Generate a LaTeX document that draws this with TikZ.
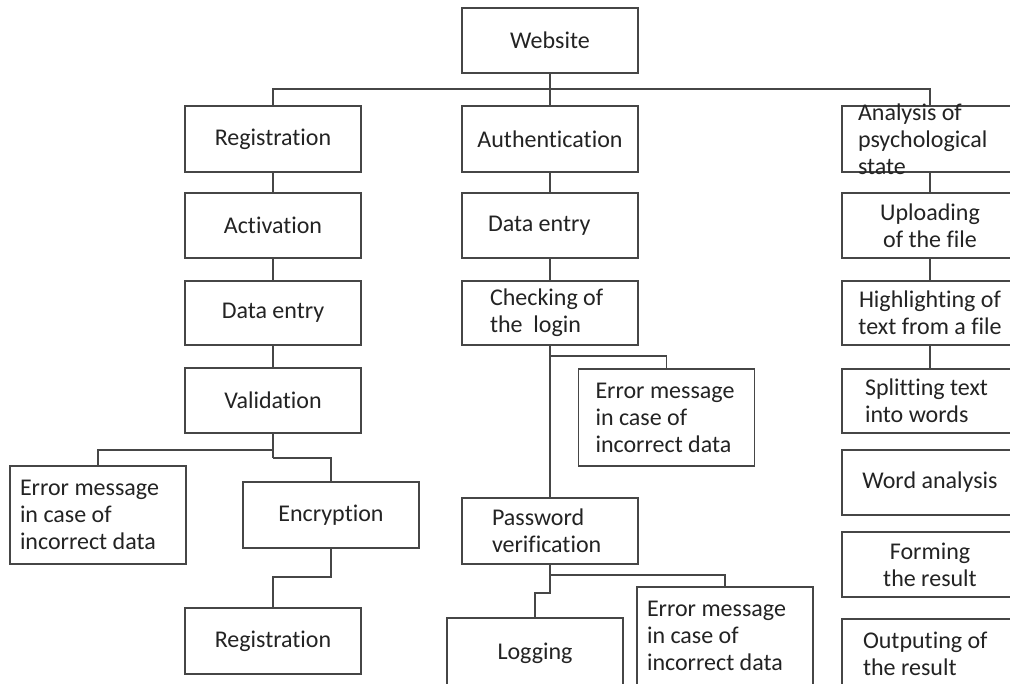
\documentclass[tikz,border=0pt]{standalone}
\usepackage{fontspec}
\setmainfont{Carlito}[Ligatures=NoCommon]
\definecolor{boxline}{RGB}{70,70,70}
\definecolor{boxtext}{RGB}{35,35,35}

\begin{document}
\begin{tikzpicture}[x=1pt, y=-1pt,
    box/.style={rectangle, draw=boxline, line width=1.8pt, fill=white,
                minimum width=176pt, minimum height=66pt, inner sep=0pt,
                align=center, text=boxtext, font=\fontsize{24}{27}\selectfont},
    lbox/.style={box, align=flush left, text width=#1},
    link/.style={draw=boxline, line width=1.8pt}]

    \useasboundingbox (0,0) rectangle (1010,684);
    \clip (0,0) rectangle (1010,684);

    \node[box, minimum height=65pt] (web) at (550,40.5) {Website};

    % registration branch
    \node[box] (reg1) at (273,139) {Registration};
    \node[box, minimum height=65pt] (act) at (273,225.5) {Activation};
    \node[box, minimum height=64pt] (dent1) at (273,313) {Data entry};
    \node[box, minimum height=65pt] (val) at (273,400.5) {Validation};
    \node[lbox=156pt, minimum height=98pt] (err1) at (98,515) {Error message\\in case of\\incorrect data};
    \node[box] (enc) at (331,515) {Encryption};
    \node[box] (reg2) at (273,641) {Registration};

    % authentication branch
    \node[box] (auth) at (550,139) {Authentication};
    \node[lbox=124pt, minimum height=65pt] (dent2) at (550,225.5) {Data entry};
    \node[lbox=120pt, minimum height=64pt] (chk) at (550,313) {Checking of\\the\ \ login};
    \node[lbox=142pt, minimum height=97pt] (err2) at (666.5,417.5) {Error message\\in case of\\incorrect data};
    \node[lbox=116pt] (pwd) at (550,531) {Password\\verification};
    \node[box, minimum height=70pt] (log) at (535,653) {Logging};
    \node[lbox=156pt, minimum height=98pt] (err3) at (725,636) {Error message\\in case of\\incorrect data};

    % analysis branch
    \node[box] (ana) at (930,139) {};
    \node[align=flush left, text width=144pt, inner sep=0pt, text=boxtext,
          font=\fontsize{24}{27}\selectfont] (anatext) at (ana) {Analysis of\\psychological\\state};
    \node[box, minimum height=65pt] (upl) at (930,225.5) {Uploading\\of the file};
    \node[box, minimum height=64pt] (hl) at (930,313) {Highlighting of\\text from a file};
    \node[lbox=130pt, minimum height=64pt] (spl) at (930,401) {Splitting text\\into words};
    \node[box, minimum height=65pt] (wa) at (930,482.5) {Word analysis};
    \node[box, minimum height=65pt] (form) at (930,564.5) {Forming\\the result};
    \node[lbox=134pt, minimum height=70pt] (out) at (930,654) {Outputing of\\the result};

    \coordinate (bus) at (550,89);
    \coordinate (vleft) at (273,450);
    \coordinate (vright) at (273,458);
    \coordinate (ebend) at (331,577);
    \coordinate (cj) at (550,356);
    \coordinate (pj1) at (550,575);
    \coordinate (pj2) at (550,593);

    \draw[link] (web) -- (bus);
    \draw[link] (reg1.north) |- (bus) -| (ana.north);
    \draw[link] (bus) -- (auth);

    \draw[link] (reg1) -- (act);
    \draw[link] (act) -- (dent1);
    \draw[link] (dent1) -- (val);
    \draw[link] (val) -- (vright);
    \draw[link] (vleft) -| (err1.north);
    \draw[link] (vright) -| (enc.north);
    \draw[link] (enc.south) -- (ebend) -| (reg2.north);

    \draw[link] (auth) -- (dent2);
    \draw[link] (dent2) -- (chk);
    \draw[link] (chk) -- (pwd);
    \draw[link] (cj) -| (err2.north);
    \draw[link] (pwd.south) -- (pj2) -| (log.north);
    \draw[link] (pj1) -| (err3.north);

    \draw[link] (ana) -- (upl);
    \draw[link] (upl) -- (hl);
    \draw[link] (hl) -- (spl);
\end{tikzpicture}
\end{document}
